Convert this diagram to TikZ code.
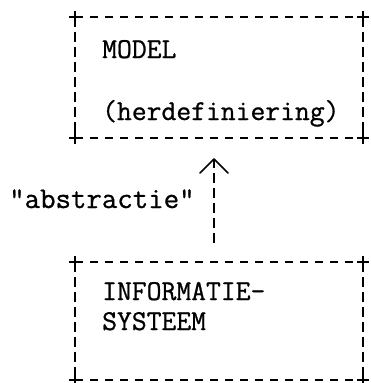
\documentclass[tikz,border=0pt]{standalone}
\usepackage{fontspec}
\setmonofont[FakeBold=0.8]{Latin Modern Mono}
\usetikzlibrary{arrows.meta}
\begin{document}
\begin{tikzpicture}[x=1pt,y=-1pt,
  boxnode/.style={draw=none,inner sep=0pt,minimum width=288pt},
  hdash/.style={line width=1.8pt,dash pattern=on 8pt off 7pt},
  vdash/.style={line width=1.5pt,dash pattern=on 10pt off 5pt},
  tick/.style={line width=1.8pt},
  txt/.style={anchor=base west,inner sep=0pt,font=\fontsize{28.8pt}{30pt}\ttfamily}
]
\useasboundingbox (0,0) rectangle (370,383);
\node[boxnode,minimum height=121pt] (model) at (219,77.5) {};
\node[boxnode,minimum height=118pt] (info) at (219,321) {};
\foreach \b in {model,info}{
  \draw[hdash] (\b.north west) -- (\b.north east);
  \draw[hdash] (\b.south west) -- (\b.south east);
  \draw[vdash] (\b.north west) -- (\b.south west);
  \draw[vdash] (\b.north east) -- (\b.south east);
  \foreach \c in {north west,north east,south west,south east}{
    \draw[tick] ([xshift=-6pt]\b.\c) -- ([xshift=6pt]\b.\c);
    \draw[tick] ([yshift=-6pt]\b.\c) -- ([yshift=6pt]\b.\c);
  }
}
\node[txt] (t1) at (102,58) {MODEL};
\node[txt] (t2) at (102,120) {(herdefiniering)};
\node[txt] (t3) at (102,300) {INFORMATIE-};
\node[txt] (t4) at (102,330) {SYSTEEM};
\node[txt,font=\fontsize{30pt}{32pt}\ttfamily] (lab) at (9,208) {"abstractie"};
\draw[vdash,shorten <=19pt,shorten >=20pt,
  -{Straight Barb[length=14pt,width=28pt,line width=1.6pt,round]}]
  ([xshift=-5pt]info.north) -- ([xshift=-5pt]model.south);
\end{tikzpicture}
\end{document}
